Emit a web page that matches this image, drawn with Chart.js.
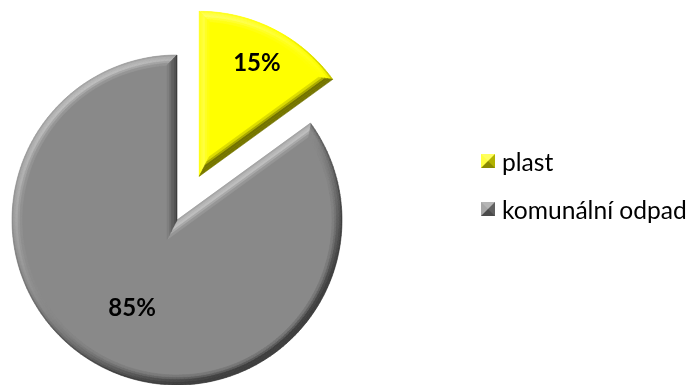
<!DOCTYPE html>
<html>
<head>
<meta charset="utf-8">
<script src="https://cdn.jsdelivr.net/npm/chart.js@4/dist/chart.umd.min.js"></script>
<style>
  body { margin: 0; background: #fff; }
  #wrap { position: relative; width: 692px; height: 385px; }
  #legend {
    position: absolute; left: 481px; top: 147px;
    margin: 0; padding: 0; list-style: none;
    font: 24.6px Lato, "Noto Sans", sans-serif; color: #000;
  }
  #legend li { display: flex; align-items: center; height: 28px; margin-bottom: 20px; white-space: nowrap; }
  #legend .box { width: 0; height: 0; border: 7px solid; margin-right: 7px; }
</style>
</head>
<body>
<div id="wrap">
  <canvas id="odpad" width="692" height="385"></canvas>
  <ul id="legend"></ul>
</div>
<script>
// slices of the pie
var labels = ['plast', 'komunální odpad'];
var values = [15, 85];
var colors = ['#ffff00', '#898989'];

// light comes from the top left
var LIGHT = { x: -0.55, y: -0.83 };
var BEVEL = 10;
// bevel profile across its width: [from, to, add, scale]
var PROFILE = [
  [0, 0.15, -0.45, 1],
  [0.15, 0.35, -0.15, 1],
  [0.35, 0.6, 0, 1],
  [0.6, 0.8, 0, 0.6],
  [0.8, 1, 0, 0.25]
];

function hexToRgb(hex) {
  var n = parseInt(hex.slice(1), 16);
  return [(n >> 16) & 255, (n >> 8) & 255, n & 255];
}

// lighten (s > 0) or darken (s < 0) a base colour
function shade(rgb, s) {
  s = Math.max(-1, Math.min(1, s));
  var target = s > 0 ? 255 : 0;
  var k = s > 0 ? s * 0.45 : -s * 0.55;
  var c = rgb.map(function(v) { return Math.round(v + (target - v) * k); });
  return 'rgb(' + c.join(',') + ')';
}

function lerp(a, b, t) {
  return { x: a.x + (b.x - a.x) * t, y: a.y + (b.y - a.y) * t };
}

// fill the strip between an outer and an inner segment, in bands
function bands(ctx, outer, inner, s, rgb) {
  PROFILE.forEach(function(p) {
    var col = shade(rgb, s * p[3] + p[2]);
    var a = lerp(outer[0], inner[0], p[0]), b = lerp(outer[1], inner[1], p[0]);
    var c = lerp(outer[1], inner[1], p[1]), d = lerp(outer[0], inner[0], p[1]);
    ctx.beginPath();
    ctx.moveTo(a.x, a.y); ctx.lineTo(b.x, b.y); ctx.lineTo(c.x, c.y); ctx.lineTo(d.x, d.y);
    ctx.closePath();
    ctx.fillStyle = col; ctx.strokeStyle = col; ctx.lineWidth = 0.6;
    ctx.fill(); ctx.stroke();
  });
}

// where Chart.js actually draws an arc (it shifts offset slices by offset / 4)
function arcGeometry(arc) {
  var o = (arc.options.offset || 0) / 4;
  var fix = 1 - Math.sin(Math.min(Math.PI, arc.circumference));
  var mid = (arc.startAngle + arc.endAngle) / 2;
  return {
    x: arc.x + Math.cos(mid) * o,
    y: arc.y + Math.sin(mid) * o,
    r: arc.outerRadius + o * fix,
    mid: mid
  };
}

var bevelPlugin = {
  id: 'bevel',
  afterDatasetsUpdate: function(chart) {
    // an offset slice gets a bigger radius in Chart.js, keep all slices the same size
    chart.getDatasetMeta(0).data.forEach(function(arc) {
      var o = (arc.options.offset || 0) / 4;
      arc.outerRadius -= o * (1 - Math.sin(Math.min(Math.PI, arc.circumference)));
    });
  },
  afterDatasetsDraw: function(chart) {
    var ctx = chart.ctx;
    ctx.save();
    chart.getDatasetMeta(0).data.forEach(function(arc) {
      var g = arcGeometry(arc);
      var rgb = hexToRgb(arc.options.backgroundColor);
      var a0 = arc.startAngle, a1 = arc.endAngle;
      var R = g.r, r = R - BEVEL;
      var d = Math.asin(BEVEL / r);
      var ap = BEVEL / Math.sin((a1 - a0) / 2);
      var c = { x: g.x, y: g.y };
      var apex = { x: g.x + Math.cos(g.mid) * ap, y: g.y + Math.sin(g.mid) * ap };
      var pt = function(rad, a) { return { x: g.x + Math.cos(a) * rad, y: g.y + Math.sin(a) * rad }; };

      // rounded rim
      var n = Math.ceil((a1 - a0) / 0.025);
      for (var i = 0; i < n; i++) {
        var u0 = i / n, u1 = (i + 1) / n;
        var am = a0 + (a1 - a0) * (u0 + u1) / 2;
        var s = Math.cos(am) * LIGHT.x + Math.sin(am) * LIGHT.y;
        bands(ctx,
          [pt(R, a0 + (a1 - a0) * u0), pt(R, a0 + (a1 - a0) * u1)],
          [pt(r, a0 + d + (a1 - a0 - 2 * d) * u0), pt(r, a0 + d + (a1 - a0 - 2 * d) * u1)],
          s, rgb);
      }
      // straight sides
      bands(ctx, [c, pt(R, a0)], [apex, pt(r, a0 + d)],
        Math.sin(a0) * LIGHT.x - Math.cos(a0) * LIGHT.y, rgb);
      bands(ctx, [c, pt(R, a1)], [apex, pt(r, a1 - d)],
        -Math.sin(a1) * LIGHT.x + Math.cos(a1) * LIGHT.y, rgb);
    });
    ctx.restore();
  }
};

// percentage labels, placed along each slice's middle
var pctPlugin = {
  id: 'pct',
  afterDatasetsDraw: function(chart, args, opts) {
    var ctx = chart.ctx;
    var total = values.reduce(function(a, b) { return a + b; }, 0);
    ctx.save();
    ctx.font = 'bold 24px Lato, "Noto Sans", sans-serif';
    ctx.fillStyle = '#000';
    ctx.textAlign = 'center';
    ctx.textBaseline = 'middle';
    chart.getDatasetMeta(0).data.forEach(function(arc, i) {
      var g = arcGeometry(arc);
      var dist = g.r * opts.position[i];
      ctx.fillText(Math.round(values[i] / total * 100) + '%',
        g.x + Math.cos(g.mid) * dist, g.y + Math.sin(g.mid) * dist);
    });
    ctx.restore();
  }
};

var chart = new Chart(document.getElementById('odpad'), {
  type: 'pie',
  data: {
    labels: labels,
    datasets: [{
      data: values,
      backgroundColor: colors,
      borderWidth: 0,
      offset: [196, 0],
      radius: 165
    }]
  },
  options: {
    responsive: false,
    animation: false,
    devicePixelRatio: 1,
    events: [],
    layout: { padding: { left: 0, right: 338, top: 55, bottom: 0 } },
    plugins: {
      legend: { display: false },
      tooltip: { enabled: false },
      pct: { position: [0.77, 0.6] }
    }
  },
  plugins: [bevelPlugin, pctPlugin]
});

// legend next to the pie
var ul = document.getElementById('legend');
labels.forEach(function(text, i) {
  var rgb = hexToRgb(colors[i]);
  var li = document.createElement('li');
  var box = document.createElement('span');
  box.className = 'box';
  box.style.borderColor = [shade(rgb, 0.83), shade(rgb, -0.55), shade(rgb, -0.83), shade(rgb, 0.55)].join(' ');
  li.appendChild(box);
  li.appendChild(document.createTextNode(text));
  ul.appendChild(li);
});
</script>
</body>
</html>
